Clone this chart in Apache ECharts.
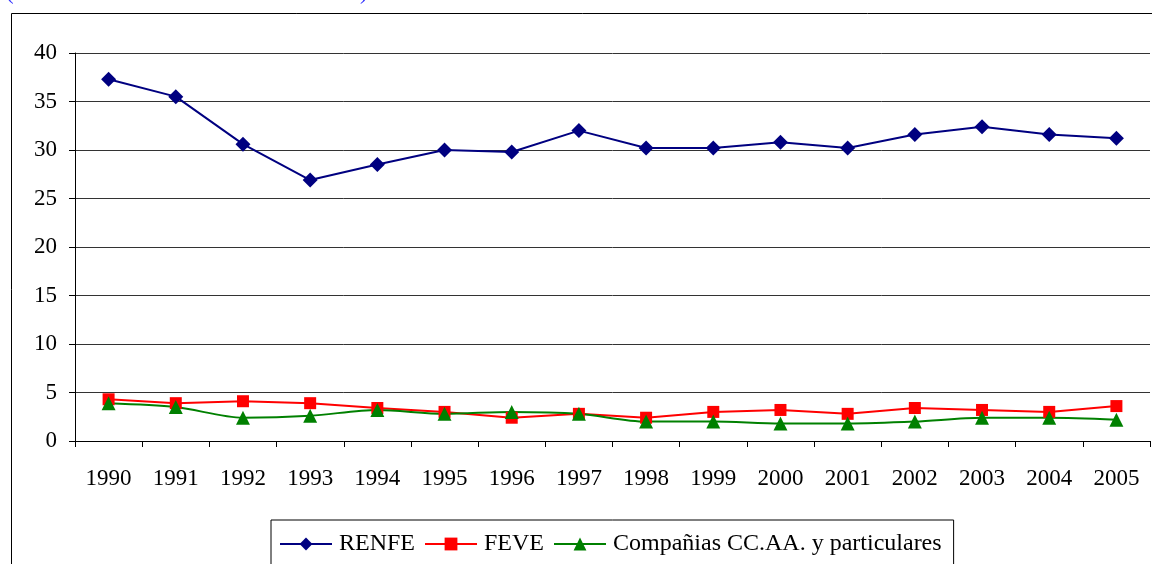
<!DOCTYPE html>
<html>
<head>
<meta charset="utf-8">
<script src="https://cdn.jsdelivr.net/npm/echarts@6/dist/echarts.min.js"></script>
<style>
  html, body { margin: 0; padding: 0; background: #fff; }
  #chart { width: 1152px; height: 564px; }
</style>
</head>
<body>
<div id="chart"></div>
<script>
const years = ['1990', '1991', '1992', '1993', '1994', '1995', '1996', '1997',
  '1998', '1999', '2000', '2001', '2002', '2003', '2004', '2005']
const renfe = [37.3, 35.5, 30.6, 26.9, 28.5, 30.0, 29.8, 32.0, 30.2, 30.2, 30.8, 30.2, 31.6, 32.4, 31.6, 31.2]
const feve = [4.3, 3.9, 4.1, 3.9, 3.4, 3.0, 2.4, 2.8, 2.4, 3.0, 3.2, 2.8, 3.4, 3.2, 3.0, 3.6]
const companias = [3.9, 3.5, 2.4, 2.6, 3.2, 2.8, 3.0, 2.8, 2.0, 2.0, 1.8, 1.8, 2.0, 2.4, 2.4, 2.2]

const font = 'Liberation Serif'
const chart = echarts.init(document.getElementById('chart'))
chart.setOption({
  animation: false,
  textStyle: { fontFamily: font },
  graphic: [
    // marco exterior del gráfico
    {
      type: 'rect',
      shape: { x: 11.5, y: 13.5, width: 1160, height: 600 },
      style: { fill: 'none', stroke: '#000', lineWidth: 1 },
      silent: true
    },
    // título cortado arriba (solo asoman los paréntesis)
    {
      type: 'text', left: 6, top: -19,
      style: { text: '(', fill: '#3333ff', font: '23px "Liberation Serif"' }
    },
    {
      type: 'text', left: 360, top: -19,
      style: { text: ')', fill: '#3333ff', font: '23px "Liberation Serif"' }
    }
  ],
  legend: {
    left: 271,
    top: 520,
    padding: [12, 12, 20, 8],
    borderColor: '#000',
    borderWidth: 1,
    itemWidth: 52,
    itemHeight: 16,
    itemGap: 9,
    textStyle: { fontFamily: font, fontSize: 24, color: '#000', padding: [0, 0, 0, 2] },
    data: ['RENFE', 'FEVE', 'Compañias CC.AA. y particulares']
  },
  grid: {
    left: 75,
    right: 2,
    top: 53,
    bottom: 123
  },
  xAxis: {
    type: 'category',
    data: years,
    boundaryGap: true,
    axisLine: { lineStyle: { color: '#000', width: 1 } },
    axisTick: { show: true, length: 6, lineStyle: { color: '#000' } },
    axisLabel: { color: '#000', fontSize: 23, fontFamily: font, margin: 26 }
  },
  yAxis: {
    type: 'value',
    min: 0,
    max: 40,
    interval: 5,
    axisLine: { show: true, lineStyle: { color: '#000', width: 1 } },
    axisTick: { show: true, length: 6, lineStyle: { color: '#000' } },
    axisLabel: { color: '#000', fontSize: 23, fontFamily: font, margin: 18 },
    splitLine: { lineStyle: { color: '#333', width: 1 } }
  },
  series: [
    {
      name: 'RENFE',
      type: 'line',
      data: renfe,
      symbol: 'diamond',
      symbolSize: 15,
      itemStyle: { color: '#000080' },
      lineStyle: { color: '#000080', width: 2 }
    },
    {
      name: 'FEVE',
      type: 'line',
      data: feve,
      symbol: 'rect',
      symbolSize: 12,
      itemStyle: { color: '#ff0000' },
      lineStyle: { color: '#ff0000', width: 2 }
    },
    {
      name: 'Compañias CC.AA. y particulares',
      type: 'line',
      data: companias,
      symbol: 'triangle',
      symbolSize: 14,
      smooth: 0.3,
      itemStyle: { color: '#008000' },
      lineStyle: { color: '#008000', width: 2 }
    }
  ]
})
</script>
</body>
</html>
